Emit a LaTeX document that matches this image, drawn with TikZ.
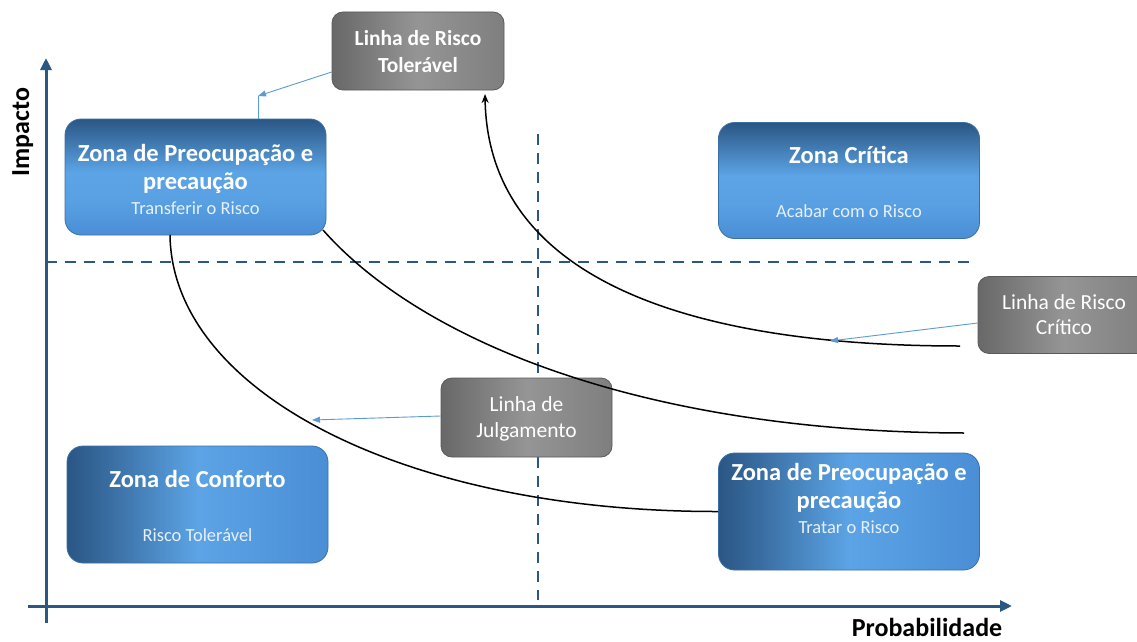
\documentclass[tikz,border=0pt]{standalone}
\usepackage{fontspec}
\setmainfont{Carlito}
\usetikzlibrary{arrows.meta}
\definecolor{axisblue}{HTML}{2B5783}
\definecolor{bdark}{HTML}{2A5684}
\definecolor{blight}{HTML}{5CA4E6}
\definecolor{bmid}{HTML}{4A8ED5}
\definecolor{bedge}{HTML}{3A70AA}
\definecolor{gdark}{HTML}{686868}
\definecolor{glight}{HTML}{959595}
\definecolor{gedge}{HTML}{5A5A5A}
\definecolor{subtxt}{HTML}{E6F0FA}
\definecolor{pointer}{HTML}{5B9BD5}
\pgfdeclareverticalshading{bluevert}{100bp}{color(0bp)=(bmid); color(25bp)=(bmid); color(40bp)=(blight!85!bmid); color(52bp)=(blight); color(75bp)=(bdark); color(100bp)=(bdark)}
\pgfdeclarehorizontalshading{bluehorz}{100bp}{color(0bp)=(bdark); color(25bp)=(bdark); color(33bp)=(bdark!70!blight); color(50bp)=(blight); color(75bp)=(bmid); color(100bp)=(bmid)}
\pgfdeclarehorizontalshading{grayhorz}{100bp}{color(0bp)=(gdark); color(25bp)=(gdark); color(50bp)=(glight); color(75bp)=(gdark!85!white); color(100bp)=(gdark!85!white)}
\tikzset{
  vbox/.style={rectangle, rounded corners=16pt, draw=bedge, line width=0.8pt,
    shading=bluevert, minimum width=261pt, minimum height=116pt, inner sep=0pt},
  hbox/.style={rectangle, rounded corners=16pt, draw=bedge, line width=0.8pt,
    shading=bluehorz, minimum width=261pt, minimum height=117pt, inner sep=0pt},
  gbox/.style={rectangle, rounded corners=11pt, draw=gedge, line width=0.8pt,
    shading=grayhorz, inner sep=0pt},
  ttl/.style={anchor=base, text=white, font=\fontsize{24.5}{26}\selectfont\bfseries, inner sep=0pt},
  sub/.style={anchor=base, text=subtxt, font=\fontsize{18.5}{20}\selectfont, inner sep=0pt},
  gttl/.style={anchor=base, text=white, font=\fontsize{21.5}{23}\selectfont\bfseries, inner sep=0pt},
  gsub/.style={anchor=base, text=white, font=\fontsize{21.5}{23}\selectfont, inner sep=0pt},
  axislbl/.style={anchor=base, text=black, font=\fontsize{26}{28}\selectfont\bfseries, inner sep=0pt},
  axisline/.style={draw=axisblue, line width=3pt},
  dashline/.style={draw=axisblue, line width=2.6pt, dash pattern=on 11pt off 8pt},
  curve/.style={draw=black, line width=1.5pt},
  pointerarrow/.style={draw=pointer, line width=0.9pt, -{Triangle[length=8pt,width=6pt]}}
}
\begin{document}
\begin{tikzpicture}[x=1pt,y=-1pt]
\useasboundingbox (0,0) rectangle (1137,642);
\fill[white] (0,0) rectangle (1137,642);

% axes
\coordinate (yBot) at (46,623);
\coordinate (yTop) at (46,58);
\coordinate (xLeft) at (28,606);
\coordinate (xRight) at (1012,606);
\draw[axisline, -{Triangle[length=12pt,width=11pt]}] (yBot) -- (yTop);
\draw[axisline, -{Triangle[length=12pt,width=11pt]}] (xLeft) -- (xRight);
\node[axislbl, rotate=90, anchor=base] (impacto) at (29,132) {Impacto};
\node[axislbl] (prob) at (927,636) {Probabilidade};

% dashed lines
\coordinate (hL) at (46,262);
\coordinate (hR) at (972,262);
\coordinate (vT) at (538,134);
\coordinate (vB) at (538,600);
\draw[dashline] (hL) -- (hR);
\draw[dashline] (vT) -- (vB);

% blue boxes
\node[vbox] (zp1) at (195.5,177) {};
\node[vbox] (zc) at (849,180.5) {};
\node[hbox] (zconf) at (197.5,504.5) {};
\node[hbox] (zp2) at (849,511.5) {};

% gray boxes
\node[gbox, minimum width=172pt, minimum height=78pt] (ltol) at (418,51) {};
\node[gbox, minimum width=171pt, minimum height=79pt] (ljul) at (526.5,417.5) {};
\node[gbox, minimum width=172pt, minimum height=77pt] (lcrit) at (1064,315) {};

% texts in blue boxes
\node[ttl] (zp1a) at (195.5,161) {Zona de Preocupação e};
\node[ttl] (zp1b) at (195.5,189) {precaução};
\node[sub] (zp1c) at (195.5,214) {Transferir o Risco};

\node[ttl] (zca) at (849,163) {Zona Crítica};
\node[sub] (zcb) at (849,217) {Acabar com o Risco};

\node[ttl] (zcfa) at (197.5,487) {Zona de Conforto};
\node[sub] (zcfb) at (197.5,541) {Risco Tolerável};

\node[ttl] (zp2a) at (849,480) {Zona de Preocupação e};
\node[ttl] (zp2b) at (849,508) {precaução};
\node[sub] (zp2c) at (849,533) {Tratar o Risco};

% texts in gray boxes
\node[gttl] (ltola) at (418,46) {Linha de Risco};
\node[gttl] (ltolb) at (418,72) {Tolerável};
\node[gsub] (ljula) at (526.5,411) {Linha de};
\node[gsub] (ljulb) at (526.5,437) {Julgamento};
\node[gsub] (lcrita) at (1064,309) {Linha de Risco};
\node[gsub] (lcritb) at (1064,334) {Crítico};

% curves
\coordinate (aEnd) at (960,346);
\coordinate (aTip) at (485,94);
\draw[curve, -{Stealth[length=9pt,width=7pt]}] (aEnd) .. controls (680,346) and (488,275) .. (aTip);
\coordinate (bStart) at (323,230);
\coordinate (bEnd) at (964,433);
\draw[curve] (bStart) .. controls (420,340) and (640,432) .. (bEnd);
\coordinate (cStart) at (170,235);
\draw[curve] (cStart) .. controls (172,392) and (405,512) .. (zp2.west);

% pointer arrows
\coordinate (tolBend) at (258,96);
\draw[draw=pointer, line width=0.9pt] (zp1.north -| tolBend) -- (tolBend);
\draw[pointerarrow] (ltol.west |- 0,72) -- (tolBend);
\coordinate (julTip) at (312,420);
\draw[pointerarrow] (ljul.west |- 0,416) -- (julTip);
\coordinate (critTip) at (830,341);
\draw[pointerarrow] (lcrit.west |- 0,323) -- (critTip);
\end{tikzpicture}
\end{document}
